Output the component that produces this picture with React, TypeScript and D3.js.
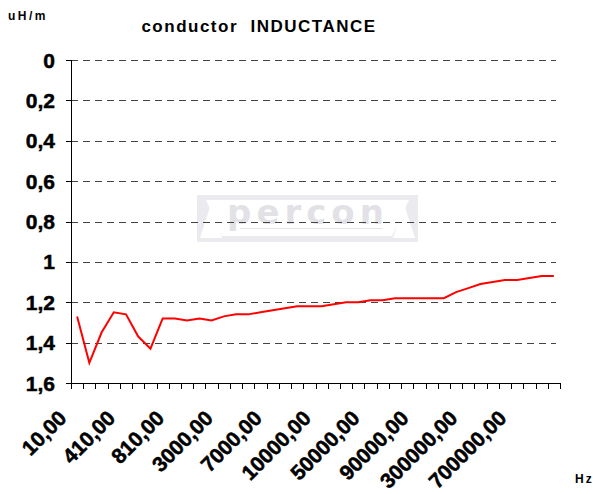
import React from 'react'
import * as d3 from 'd3'

const frequencies = [
  10, 110, 210, 310, 410, 510, 610, 710, 810, 910,
  1000, 2000, 3000, 4000, 5000, 6000, 7000, 8000, 9000, 9500,
  10000, 20000, 30000, 40000, 50000, 60000, 70000, 80000, 90000, 100000,
  150000, 200000, 300000, 400000, 500000, 600000, 700000, 800000, 900000, 1000000,
]

const inductance = [
  1.27, 1.5, 1.35, 1.25, 1.26, 1.37, 1.43, 1.28, 1.28, 1.29,
  1.28, 1.29, 1.27, 1.26, 1.26, 1.25, 1.24, 1.23, 1.22, 1.22,
  1.22, 1.21, 1.2, 1.2, 1.19, 1.19, 1.18, 1.18, 1.18, 1.18,
  1.18, 1.15, 1.13, 1.11, 1.1, 1.09, 1.09, 1.08, 1.07, 1.07,
]

const yTicks = [0, 0.2, 0.4, 0.6, 0.8, 1, 1.2, 1.4, 1.6]

const width = 593
const height = 494
const left = 71
const right = 560
const top = 60
const bottom = 383

const fmt = (v: number) => String(v).replace('.', ',')
const fmtHz = (v: number) => v.toFixed(2).replace('.', ',')

export default function App() {
  const idx = d3.range(frequencies.length)
  const x = d3.scaleBand<number>().domain(idx).range([left, right])
  const y = d3.scaleLinear().domain([0, 1.6]).range([top, bottom])
  const cx = (i: number) => (x(i) as number) + x.bandwidth() / 2

  const line = d3.line<number>()
    .x((d, i) => cx(i))
    .y((d) => y(d))

  const boundaries = d3.range(frequencies.length + 1).map((i) => left + i * x.bandwidth())

  return (
    <svg
      width={width}
      height={height}
      style={{ position: 'absolute', left: 0, top: 0, background: '#fff' }}
      fontFamily="'Liberation Sans', Arial, sans-serif"
    >
      {/* watermark */}
      <g>
        <rect x={197} y={195} width={221} height={47} fill="#ebebef" />
        <polygon points="206,200 409,200 392,236 222,236" fill="#fff" />
        <polygon points="200,238 211,204 222,238" fill="#fff" />
        <polygon points="393,238 404,204 415,238" fill="#fff" />
        <text x={308} y={224} textAnchor="middle" fontSize={34} fontWeight="bold" letterSpacing={5}
          fontFamily="'DejaVu Sans', sans-serif" fill="#e2e2e6">percon</text>
        <line x1={240} x2={382} y1={228.5} y2={228.5} stroke="#e2e2e6" />
      </g>

      {yTicks.slice(0, -1).map((t) => (
        <line key={t} x1={left} x2={right - 4} y1={Math.round(y(t)) + 0.5} y2={Math.round(y(t)) + 0.5}
          stroke="#444" strokeDasharray="7,5" />
      ))}

      <path d={line(inductance) ?? ''} fill="none" stroke="#ff0000" strokeWidth={2} />

      {/* axes */}
      <line x1={left + 0.5} x2={left + 0.5} y1={top} y2={bottom} stroke="#000" />
      <line x1={left} x2={right} y1={bottom + 0.5} y2={bottom + 0.5} stroke="#000" />
      {yTicks.map((t) => (
        <g key={t}>
          <line x1={left - 5} x2={left} y1={Math.round(y(t)) + 0.5} y2={Math.round(y(t)) + 0.5} stroke="#000" />
          <text x={55} y={y(t)} dy="0.36em" textAnchor="end" fontSize={21} fontWeight="bold"
            fill="#000" stroke="#000" strokeWidth={0.5}>{fmt(t)}</text>
        </g>
      ))}
      {boundaries.map((b, i) => (
        <line key={i} x1={Math.round(b) + 0.5} x2={Math.round(b) + 0.5} y1={bottom} y2={bottom + 6} stroke="#000" />
      ))}
      {frequencies.map((f, i) => i % 4 === 0 ? (
        <text key={i} transform={`translate(${cx(i) - 20},${409}) rotate(-45)`} dy="0.71em"
          textAnchor="end" fontSize={21} fontWeight="bold" fill="#000" stroke="#000" strokeWidth={0.5}>{fmtHz(f)}</text>
      ) : null)}

      <text x={259} y={32} textAnchor="middle" fontSize={17} fontWeight="bold" letterSpacing={1.5} fill="#000"
        style={{ whiteSpace: 'pre' }}>conductor  INDUCTANCE</text>
      <text x={8} y={20} fontSize={12} fontWeight="bold" letterSpacing={2.5} fill="#000">uH/m</text>
      <text x={575} y={483} fontSize={12} fontWeight="bold" letterSpacing={2} fill="#000">Hz</text>
    </svg>
  )
}
